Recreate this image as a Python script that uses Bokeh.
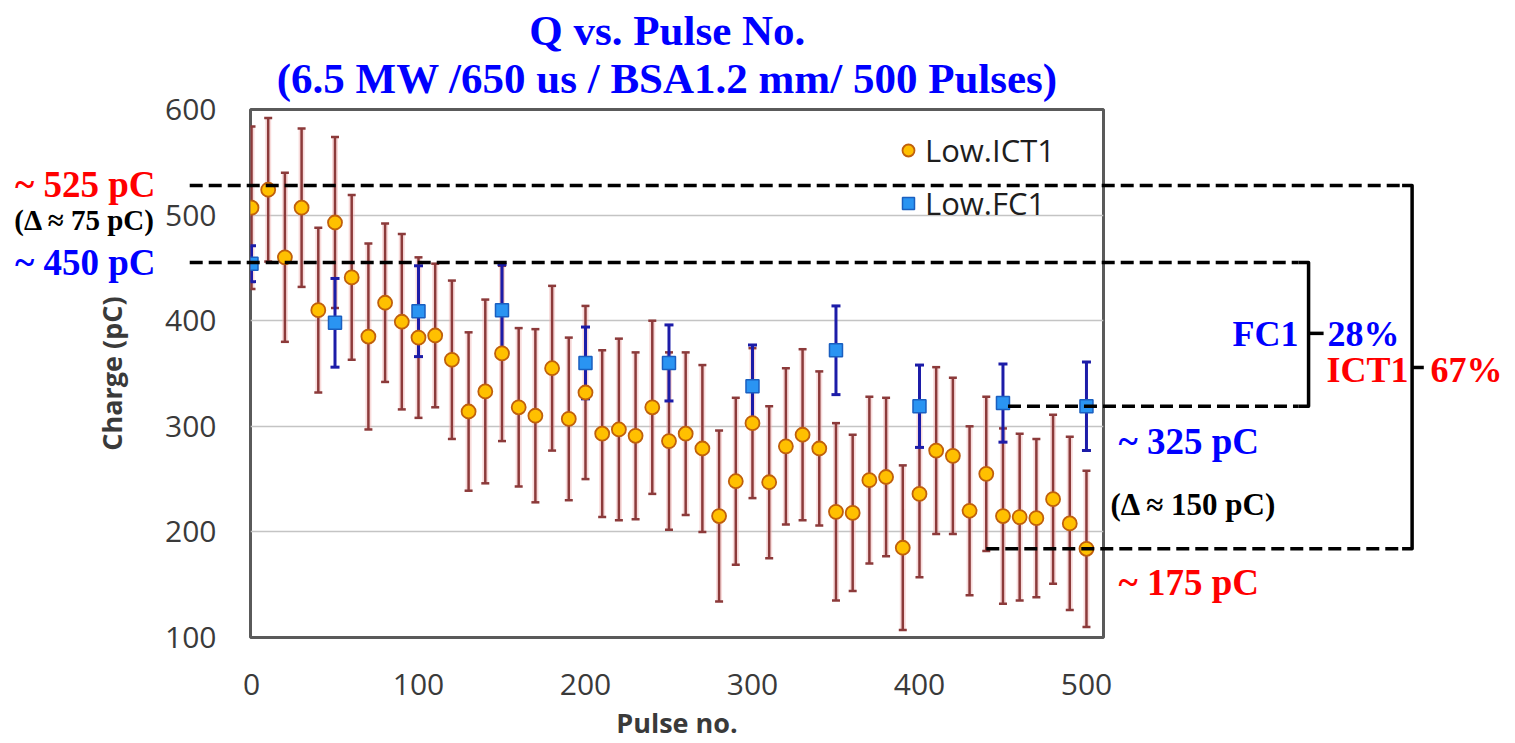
from bokeh.plotting import figure
from bokeh.models import Range1d, FixedTicker, ColumnDataSource, Whisker, TeeHead, Legend, LegendItem
from bokeh.core.properties import value
from bokeh.embed import file_html
from bokeh.resources import INLINE

# ---------------- data ----------------
ict_pulse = [0, 10, 20, 30, 40, 50, 60, 70, 80, 90, 100, 110, 120, 130, 140, 150, 160, 170, 180, 190,
             200, 210, 220, 230, 240, 250, 260, 270, 280, 290, 300, 310, 320, 330, 340, 350, 360, 370,
             380, 390, 400, 410, 420, 430, 440, 450, 460, 470, 480, 490, 500]
ict_charge = [507, 524, 460, 507, 410, 493, 441, 385, 417, 399, 384, 386, 363, 314, 333, 369, 318, 310,
              355, 307, 332, 293, 297, 291, 318, 286, 293, 279, 215, 248, 303, 247, 281, 292, 279, 219,
              218, 249, 252, 185, 236, 277, 272, 220, 255, 215, 214, 213, 231, 208, 184]
ict_err = [77, 68, 80, 75, 78, 81, 78, 88, 75, 83, 76, 68, 75, 75, 87, 83, 75, 82, 78, 77, 82, 79, 86,
           79, 82, 84, 77, 79, 81, 79, 71, 72, 74, 81, 73, 84, 74, 79, 75, 78, 79, 79, 74, 80, 73, 83,
           79, 75, 80, 82, 74]

fc_pulse = [0, 50, 100, 150, 200, 250, 300, 350, 400, 450, 500]
fc_charge = [454, 398, 409, 410, 360, 360, 338, 372, 319, 322, 319]
fc_err = [17, 42, 43, 43, 34, 36, 39, 42, 39, 37, 42]

x_ticks = [0, 100, 200, 300, 400, 500]
y_ticks = [100, 200, 300, 400, 500, 600]

title_lines = ["Q vs. Pulse No.", "(6.5 MW /650 us / BSA1.2 mm/ 500 Pulses)"]

# ---------------- figure ----------------
p = figure(width=1515, height=743, output_backend="svg", toolbar_location=None,
           x_range=Range1d(-0.6, 510.2), y_range=Range1d(100, 600),
           min_border_left=250, min_border_right=412, min_border_top=109, min_border_bottom=106,
           background_fill_color="white", border_fill_color="white")
p.outline_line_color = "#5a5a5a"
p.outline_line_width = 3
p.xgrid.visible = False
p.ygrid.ticker = FixedTicker(ticks=y_ticks)
p.ygrid.grid_line_color = "#c4c4c4"
p.ygrid.grid_line_width = 1.5

p.xaxis.ticker = FixedTicker(ticks=x_ticks)
p.yaxis.ticker = FixedTicker(ticks=y_ticks)
for ax in (p.xaxis[0], p.yaxis[0]):
    ax.axis_line_color = None
    ax.major_tick_line_color = None
    ax.minor_tick_line_color = None
    ax.major_tick_out = 0
    ax.major_tick_in = 0
    ax.major_label_text_font = "Open Sans"
    ax.major_label_text_font_size = "30px"
    ax.major_label_text_color = "#3a3a3a"
    ax.axis_label_text_font = "Open Sans"
    ax.axis_label_text_font_style = "bold"
    ax.axis_label_text_font_size = "27px"
    ax.axis_label_text_color = "#3a3a3a"
p.xaxis.axis_label = "Pulse no."
p.yaxis.axis_label = "Charge (pC)"
p.xaxis.major_label_standoff = 36
p.yaxis.major_label_standoff = 34
p.xaxis.axis_label_standoff = 6
p.yaxis.axis_label_standoff = 32

# ---------------- error bars ----------------
ict_src = ColumnDataSource(dict(
    x=ict_pulse, y=ict_charge,
    lo=[c - e for c, e in zip(ict_charge, ict_err)],
    hi=[c + e for c, e in zip(ict_charge, ict_err)]))
fc_src = ColumnDataSource(dict(
    x=fc_pulse, y=fc_charge,
    lo=[c - e for c, e in zip(fc_charge, fc_err)],
    hi=[c + e for c, e in zip(fc_charge, fc_err)]))

ict_col = "#8c3a3a"
fc_col = "#1c1ca8"
p.add_layout(Whisker(source=ict_src, base="x", upper="hi", lower="lo", dimension="height",
                     line_color="#f0b0b0", line_width=6, line_alpha=0.45,
                     upper_head=None, lower_head=None))
p.add_layout(Whisker(source=ict_src, base="x", upper="hi", lower="lo", dimension="height",
                     line_color=ict_col, line_width=2.5,
                     upper_head=TeeHead(size=8, line_color=ict_col, line_width=2.5),
                     lower_head=TeeHead(size=8, line_color=ict_col, line_width=2.5)))
p.add_layout(Whisker(source=fc_src, base="x", upper="hi", lower="lo", dimension="height",
                     line_color=fc_col, line_width=3,
                     upper_head=TeeHead(size=9, line_color=fc_col, line_width=3),
                     lower_head=TeeHead(size=9, line_color=fc_col, line_width=3)))

r_ict = p.scatter("x", "y", source=ict_src, marker="circle", size=14,
                  fill_color="#ffc000", line_color="#c0600c", line_width=1.8)
r_fc = p.scatter("x", "y", source=fc_src, marker="square", size=13,
                 fill_color="#2a94f2", line_color="#1a5fc0", line_width=1.5)

legend = Legend(items=[LegendItem(label="Low.ICT1", renderers=[r_ict]),
                       LegendItem(label="Low.FC1", renderers=[r_fc])],
                location=(643, 413), padding=0, margin=0, spacing=11,
                glyph_width=30, glyph_height=30, label_standoff=2,
                border_line_color=None, background_fill_alpha=0,
                label_text_font="Open Sans", label_text_font_size="31px",
                label_text_color="#1e1e1e")
p.add_layout(legend)

# ---------------- annotations (drawn above the frame clip) ----------------
dash = "13 6"
# dashed level lines
p.segment(x0=[-37, -37, 453, 440], y0=[528, 455, 319, 184],
          x1=[689, 627, 627, 689], y1=[528, 455, 319, 184],
          line_color="black", line_width=3.5, line_dash=dash, level="overlay")
# brackets
p.line(x=[689, 695, 695, 689], y=[528, 528, 184, 184], line_color="black", line_width=3.5,
       line_join="round", level="overlay")
p.line(x=[627, 633, 633, 627], y=[455, 455, 319, 319], line_color="black", line_width=3.5,
       line_join="round", level="overlay")
p.segment(x0=[695, 633], y0=[355.7, 388], x1=[702, 642], y1=[355.7, 388],
          line_color="black", line_width=3.5, level="overlay")

serif = value("Liberation Serif")
# title
p.text(x=[249, 249], y=[675, 629.4], text=title_lines, text_font=serif, text_font_style="bold",
       text_font_size="43px", text_color="#0000ff", text_align="center", text_baseline="middle",
       level="overlay")
# left labels
p.text(x=[-57.5], y=[529], text=["~ 525 pC"], text_font=serif, text_font_style="bold",
       text_font_size="37px", text_color="#ff0000", text_align="right", text_baseline="middle",
       level="overlay")
p.text(x=[-57.5], y=[455], text=["~ 450 pC"], text_font=serif, text_font_style="bold",
       text_font_size="37px", text_color="#0000ff", text_align="right", text_baseline="middle",
       level="overlay")
p.text(x=[-57.5], y=[495], text=["(\u0394 \u2248 75 pC)"], text_font=serif, text_font_style="bold",
       text_font_size="29px", text_color="black", text_align="right", text_baseline="middle",
       level="overlay")
# right labels
p.text(x=[627], y=[387], text=["FC1"], text_font=serif, text_font_style="bold",
       text_font_size="36px", text_color="#0000ff", text_align="right", text_baseline="middle",
       level="overlay")
p.text(x=[644.3], y=[387], text=["28%"], text_font=serif, text_font_style="bold",
       text_font_size="36px", text_color="#0000ff", text_align="left", text_baseline="middle",
       level="overlay")
p.text(x=[692.8], y=[353], text=["ICT1"], text_font=serif, text_font_style="bold",
       text_font_size="36px", text_color="#ff0000", text_align="right", text_baseline="middle",
       level="overlay")
p.text(x=[706], y=[353], text=["67%"], text_font=serif, text_font_style="bold",
       text_font_size="36px", text_color="#ff0000", text_align="left", text_baseline="middle",
       level="overlay")
p.text(x=[519.2], y=[285.6], text=["~ 325 pC"], text_font=serif, text_font_style="bold",
       text_font_size="37px", text_color="#0000ff", text_align="left", text_baseline="middle",
       level="overlay")
p.text(x=[514.4], y=[226], text=["(\u0394 \u2248 150 pC)"], text_font=serif, text_font_style="bold",
       text_font_size="31px", text_color="black", text_align="left", text_baseline="middle",
       level="overlay")
p.text(x=[519.2], y=[152], text=["~ 175 pC"], text_font=serif, text_font_style="bold",
       text_font_size="37px", text_color="#ff0000", text_align="left", text_baseline="middle",
       level="overlay")

open("out.html", "w").write(file_html(p, INLINE))
